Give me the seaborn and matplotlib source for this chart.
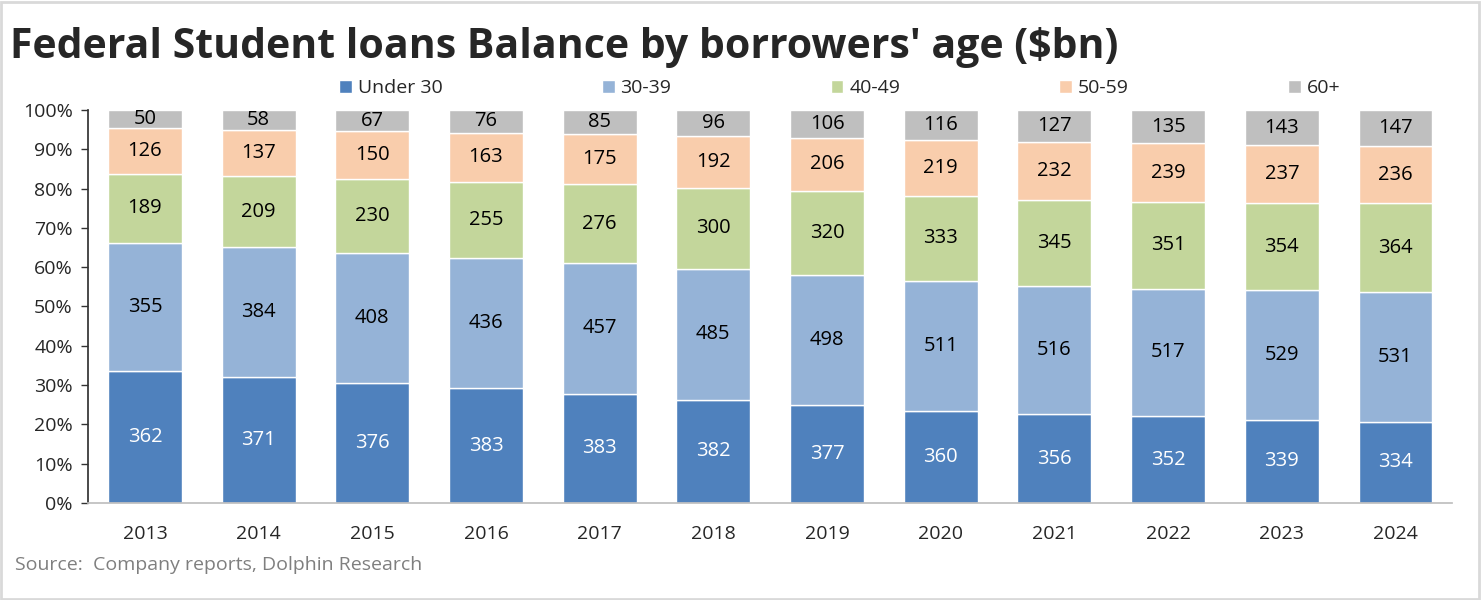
import numpy as np
import pandas as pd
import matplotlib
matplotlib.use("Agg")
import matplotlib.pyplot as plt
import seaborn as sns
from matplotlib.patches import Rectangle
from matplotlib.ticker import PercentFormatter

# ==========================================
# Data ($bn)
# ==========================================

years = ["2013", "2014", "2015", "2016", "2017", "2018",
         "2019", "2020", "2021", "2022", "2023", "2024"]
under_30 = [362, 371, 376, 383, 383, 382, 377, 360, 356, 352, 339, 334]
age_30_39 = [355, 384, 408, 436, 457, 485, 498, 511, 516, 517, 529, 531]
age_40_49 = [189, 209, 230, 255, 276, 300, 320, 333, 345, 351, 354, 364]
age_50_59 = [126, 137, 150, 163, 175, 192, 206, 219, 232, 239, 237, 236]
age_60_plus = [50, 58, 67, 76, 85, 96, 106, 116, 127, 135, 143, 147]

groups = ["Under 30", "30-39", "40-49", "50-59", "60+"]
colors = ["#4F81BD", "#95B3D7", "#C3D69B", "#F9CDAC", "#BFBFBF"]
text_colors = ["white", "black", "black", "black", "black"]

df = pd.DataFrame({
    "Year": years,
    "Under 30": under_30,
    "30-39": age_30_39,
    "40-49": age_40_49,
    "50-59": age_50_59,
    "60+": age_60_plus,
})
totals = df[groups].sum(axis=1)
shares = df[groups].div(totals, axis=0) * 100

# ==========================================
# Plot
# ==========================================

sns.set_theme(style="white")
plt.rcParams["font.family"] = ["Open Sans", "DejaVu Sans"]

fig = plt.figure(figsize=(14.82, 6.0), dpi=100)
ax = fig.add_axes([0.0594, 0.1617, 0.9206, 0.655])

bottom = np.zeros(len(years))
for g, c, tc in zip(groups, colors, text_colors):
    sns.barplot(x=df["Year"], y=shares[g], bottom=bottom, color=c,
                width=0.65, ax=ax, label=g, saturation=1)
    for i in range(len(years)):
        ax.text(i, bottom[i] + shares[g][i] / 2, str(df[g][i]),
                ha="center", va="center", fontsize=14.5, color=tc)
    bottom = bottom + shares[g].values

ax.set_ylim(0, 100)
ax.set_xlim(-0.5, len(years) - 0.5)
ax.set_yticks(range(0, 101, 10))
ax.yaxis.set_major_formatter(PercentFormatter(decimals=0))
ax.set_xlabel("")
ax.set_ylabel("")
ax.tick_params(axis="y", left=True, length=5, width=1, color="#333333",
               labelsize=14, pad=6)
ax.tick_params(axis="x", bottom=False, labelsize=14, pad=10)
for s in ["top", "right"]:
    ax.spines[s].set_visible(False)
ax.spines["left"].set_color("#333333")
ax.spines["bottom"].set_color("#BFBFBF")

ax.legend(loc="center", bbox_to_anchor=(0.551, 1.055), ncol=5, frameon=False,
          fontsize=14, handlelength=0.65, handleheight=0.65, handletextpad=0.3,
          columnspacing=8.2, borderaxespad=0)

fig.text(0.007, 0.92, "Federal Student loans Balance by borrowers' age ($bn)",
         fontsize=29.5, fontweight="bold", va="center", ha="left")
fig.text(0.01, 0.058, "Source:  Company reports, Dolphin Research",
         fontsize=14, color="#7F7F7F", va="center", ha="left")

fig.patches.append(Rectangle((0.001, 0.002), 0.997, 0.994, transform=fig.transFigure,
                             fill=False, edgecolor="#D9D9D9", linewidth=2))

plt.savefig("out.png", dpi=100)
plt.close()
